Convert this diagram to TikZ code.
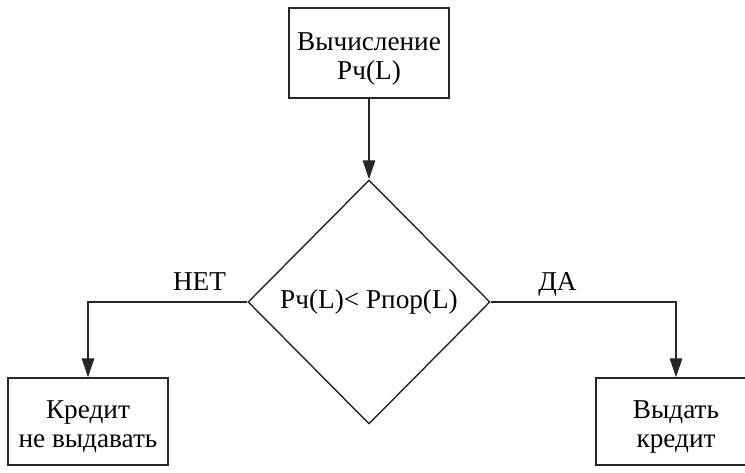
\documentclass[tikz,border=0pt]{standalone}
\usepackage{fontspec}
\setmainfont{Liberation Serif}
\usetikzlibrary{shapes.geometric,arrows.meta}

\begin{document}
\begin{tikzpicture}[
  font=\rmfamily\fontsize{15.5}{16.5}\selectfont,
  line width=0.8pt,
  blok/.style={draw=black!85, rectangle, minimum width=3.2cm, align=center, inner sep=0, text height=1.16cm},
  vybor/.style={draw=black!85, diamond, minimum width=4.84cm, minimum height=4.88cm, inner sep=0},
  strelka/.style={draw=black!85, -{Triangle[length=0.38cm, width=0.25cm]}},
  metka/.style={anchor=base, yshift=0.24cm}
]
\useasboundingbox (0, 0) rectangle (14.9, -9.44);
\node[blok, minimum height=1.8cm] (calc) at (7.38, -1.06) {Вычисление\\Рч(L)};
\node[vybor] (check) at (7.38, -6.04) {Рч(L)< Рпор(L)};
\node[blok, minimum height=1.74cm] (no) at (1.76, -8.43) {Кредит\\не выдавать};
\node[blok, minimum height=1.74cm] (yes) at (13.52, -8.43) {Выдать\\кредит};
\draw[strelka] (calc) -- (check);
\draw[strelka] (check.west) -| node[pos=0.15, metka] (nolabel) {НЕТ} (no.north);
\draw[strelka] (check.east) -| node[pos=0.18, metka] (yeslabel) {ДА} (yes.north);
\end{tikzpicture}
\end{document}
